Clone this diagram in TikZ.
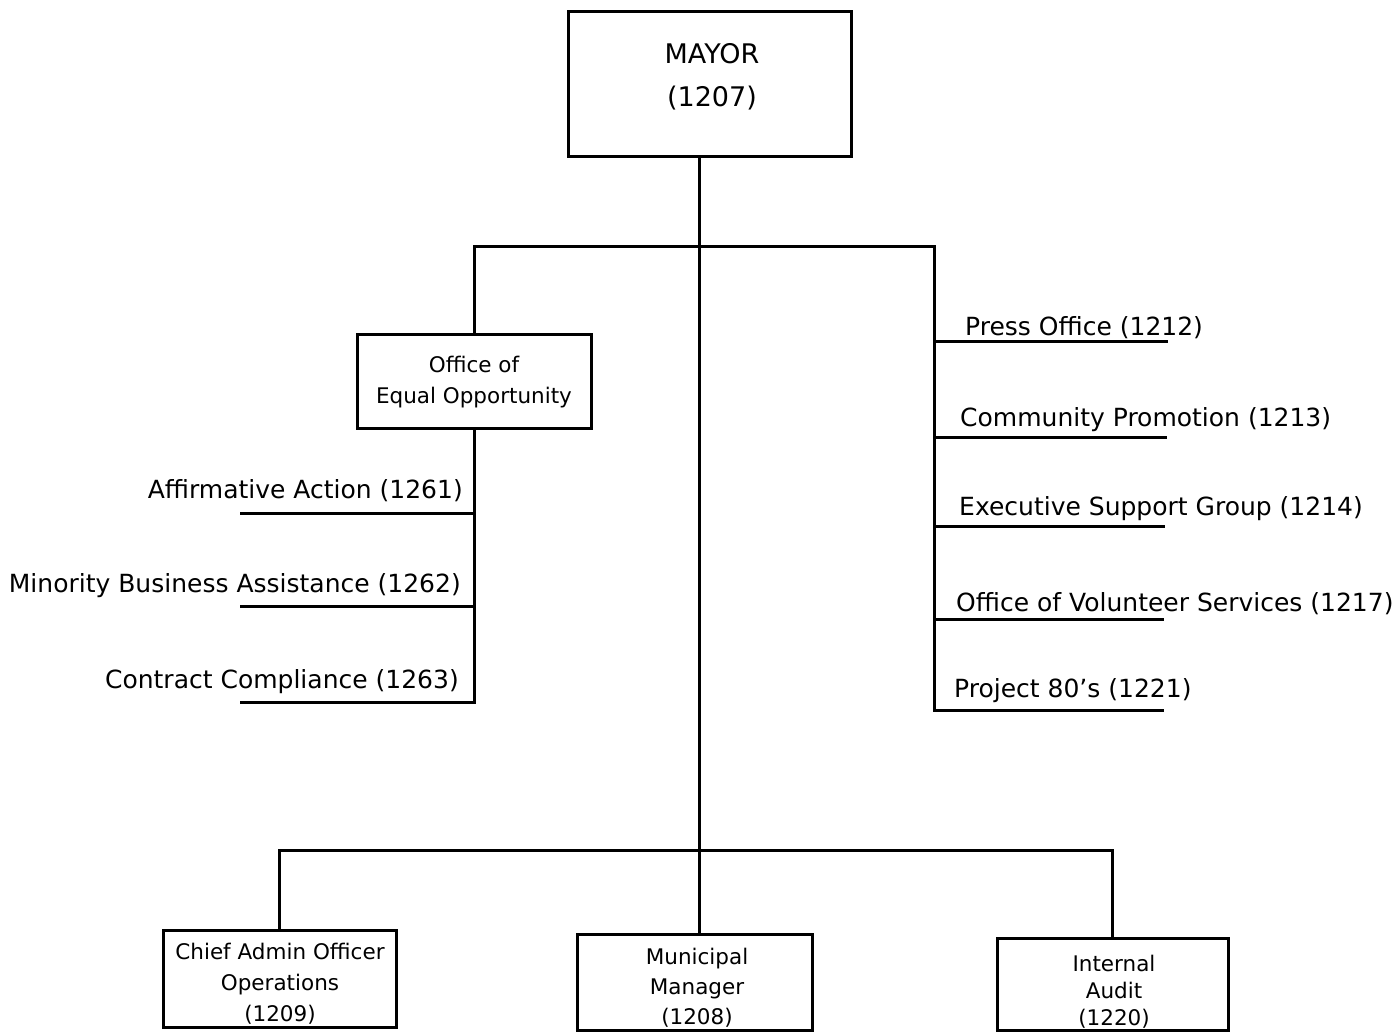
\documentclass[tikz,border=0pt]{standalone}
\usepackage{fontspec}
\setmainfont{DejaVu Sans}

\tikzset{
  orgbox/.style={draw, line width=3pt, inner sep=0pt},
  link/.style={line width=3pt, line cap=rect},
  boxtext/.style={align=center, inner sep=0pt},
  unitlabel/.style={inner sep=0pt, font=\fontsize{25}{29}\selectfont},
}

\begin{document}
\begin{tikzpicture}[x=1pt,y=1pt,yscale=-1,xscale=1]
\useasboundingbox (0,0) rectangle (1396,1033);

%Boxes
\node[orgbox, minimum width=283pt, minimum height=144pt] (mayor) at (709.5,84) {};
\node[boxtext, font=\fontsize{27}{43}\selectfont] (mayor-t) at (712,77) {MAYOR\\(1207)};
\node[orgbox, minimum width=234pt, minimum height=94pt] (eo) at (474,381) {};
\node[boxtext, font=\fontsize{21.5}{31}\selectfont] (eo-t) at (474,382.5) {Office of\\Equal Opportunity};
\node[orgbox, minimum width=233pt, minimum height=97pt] (chief) at (279.5,978.5) {};
\node[boxtext, font=\fontsize{21.5}{31}\selectfont] (chief-t) at (280,984) {Chief Admin Officer\\Operations\\(1209)};
\node[orgbox, minimum width=235pt, minimum height=96pt] (mm) at (694.5,982) {};
\node[boxtext, font=\fontsize{21.5}{30}\selectfont] (mm-t) at (697,988) {Municipal\\Manager\\(1208)};
\node[orgbox, minimum width=231pt, minimum height=92pt] (ia) at (1112.5,984) {};
\node[boxtext, font=\fontsize{21.5}{27}\selectfont] (ia-t) at (1114,992) {Internal\\Audit\\(1220)};

%Labels under Equal Opportunity
\node[unitlabel, anchor=east] (aa) at (463,491) {Affirmative Action (1261)};
\node[unitlabel, anchor=east] (mba) at (461,586) {Minority Business Assistance (1262)};
\node[unitlabel, anchor=east] (cc) at (459,682) {Contract Compliance (1263)};
\coordinate (aa-l) at (241,513);
\coordinate (mba-l) at (241,606);
\coordinate (cc-l) at (241,702);

%Labels on the right
\node[unitlabel, anchor=west] (press) at (965,328) {Press Office (1212)};
\node[unitlabel, anchor=west] (cp) at (960,420) {Community Promotion (1213)};
\node[unitlabel, anchor=west] (esg) at (959,509) {Executive Support Group (1214)};
\node[unitlabel, anchor=west] (ovs) at (956,604) {Office of Volunteer Services (1217)};
\node[unitlabel, anchor=west] (p80) at (954,691) {Project 80’s (1221)};
\coordinate (press-r) at (1166,341);
\coordinate (cp-r) at (1165,437);
\coordinate (esg-r) at (1163,526);
\coordinate (ovs-r) at (1162,619);
\coordinate (p80-r) at (1162,710);

%Junctions
\coordinate (ub-l) at (474,246);
\coordinate (ub-r) at (934,246);
\coordinate (spine) at (699,850);

%Main spine and bars
\draw[link] (mayor.south -| spine) -- (spine);
\draw[link] (ub-l) -- (ub-r);
\draw[link] (ub-l) -- (eo.north);
\draw[link] (chief.north |- spine) -- (ia.north |- spine);
\draw[link] (chief.north |- spine) -- (chief.north);
\draw[link] (spine) -- (spine |- mm.north);
\draw[link] (ia.north |- spine) -- (ia.north);

%Left branch
\draw[link] (eo.south) -- (cc-l -| eo.south);
\draw[link] (aa-l) -- (aa-l -| eo.south);
\draw[link] (mba-l) -- (mba-l -| eo.south);
\draw[link] (cc-l) -- (cc-l -| eo.south);

%Right branch
\draw[link] (ub-r) -- (p80-r -| ub-r);
\draw[link] (press-r -| ub-r) -- (press-r);
\draw[link] (cp-r -| ub-r) -- (cp-r);
\draw[link] (esg-r -| ub-r) -- (esg-r);
\draw[link] (ovs-r -| ub-r) -- (ovs-r);
\draw[link] (p80-r -| ub-r) -- (p80-r);

\end{tikzpicture}
\end{document}
